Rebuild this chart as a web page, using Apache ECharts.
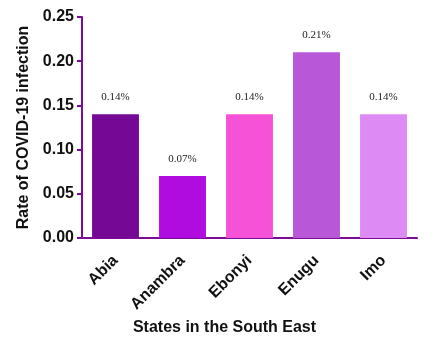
<!DOCTYPE html>
<html>
<head>
<meta charset="utf-8">
<script src="https://cdn.jsdelivr.net/npm/echarts@6/dist/echarts.min.js"></script>
<style>
  html, body { margin: 0; padding: 0; background: #fff; }
  #chart { width: 441px; height: 340px; }
</style>
</head>
<body>
<div id="chart"></div>
<script>
// states and infection rate (%)
let states = ['Abia', 'Anambra', 'Ebonyi', 'Enugu', 'Imo'];
let rates = [0.14, 0.07, 0.14, 0.21, 0.14];
let barColors = ['#760896', '#B00CE0', '#F552D8', '#B858D8', '#DE8AF5'];
let yTicks = [0, 0.05, 0.10, 0.15, 0.20, 0.25];

let axisColor = '#7B0A96';
let chart = echarts.init(document.getElementById('chart'));

let option = {
    animation: false,
    grid: {
        left: 82,
        right: 24,
        top: 17,
        bottom: 102,
        outerBoundsMode: 'none'
    },
    xAxis: {
        type: 'category',
        data: states,
        name: 'States in the South East',
        nameLocation: 'middle',
        nameGap: 82,
        nameTextStyle: {
            fontFamily: 'Liberation Sans, Arial',
            fontWeight: 'bold',
            fontSize: 16,
            color: '#111',
            padding: [0, 50, 0, 0]
        },
        axisLine: { lineStyle: { color: axisColor, width: 2 } },
        axisTick: { alignWithLabel: true, length: 5, lineStyle: { color: axisColor, width: 2 } },
        axisLabel: {
            rotate: 45,
            interval: 0,
            margin: 20,
            fontFamily: 'Liberation Sans, Arial',
            fontWeight: 'bold',
            fontSize: 16,
            color: '#111'
        }
    },
    yAxis: {
        type: 'value',
        min: 0,
        max: yTicks[yTicks.length - 1],
        interval: 0.05,
        name: 'Rate of COVID-19 infection',
        nameLocation: 'middle',
        nameGap: 41,
        nameTextStyle: {
            fontFamily: 'Liberation Sans, Arial',
            fontWeight: 'bold',
            fontSize: 16,
            color: '#111'
        },
        axisLine: { show: true, lineStyle: { color: axisColor, width: 2 } },
        axisTick: { show: true, length: 5, lineStyle: { color: axisColor, width: 2 } },
        splitLine: { show: false },
        axisLabel: {
            margin: 8,
            fontFamily: 'Liberation Sans, Arial',
            fontWeight: 'bold',
            fontSize: 16,
            color: '#111',
            formatter: function (v) { return v.toFixed(2); }
        }
    },
    series: [
        {
            type: 'bar',
            barWidth: '70%',
            data: rates.map(function (v, i) {
                return { value: v, itemStyle: { color: barColors[i] } };
            }),
            label: {
                show: true,
                position: 'top',
                distance: 12,
                fontFamily: 'Liberation Serif, Times New Roman',
                fontSize: 11,
                color: '#222',
                formatter: function (p) { return p.value.toFixed(2) + '%'; }
            }
        }
    ]
};

chart.setOption(option);
</script>
</body>
</html>
